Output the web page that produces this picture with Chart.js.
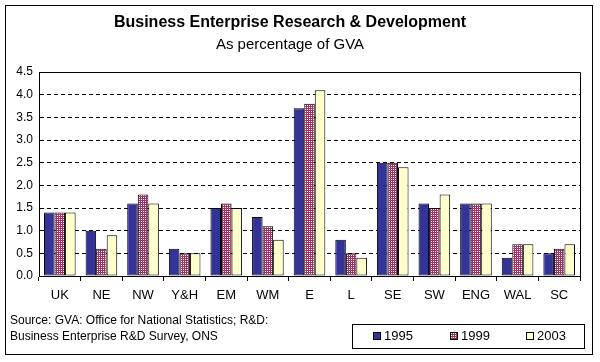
<!DOCTYPE html>
<html>
<head>
<meta charset="utf-8">
<script src="https://cdn.jsdelivr.net/npm/chart.js@4.4.0/dist/chart.umd.min.js"></script>
<style>
  html, body { margin: 0; padding: 0; background: #fff; }
  #wrap { width: 600px; height: 362px; }
</style>
</head>
<body>
<div id="wrap"><canvas id="rdChart" width="600" height="362"></canvas></div>
<script>
/* ───────── datos ───────── */
const regions = ["UK", "NE", "NW", "Y&H", "EM", "WM", "E", "L", "SE", "SW", "ENG", "WAL", "SC"];
const years   = ["1995", "1999", "2003"];
const v1995   = [1.4, 1.0, 1.6, 0.6, 1.5, 1.3, 3.7, 0.8, 2.5, 1.6, 1.6, 0.4, 0.5];
const v1999   = [1.4, 0.6, 1.8, 0.5, 1.6, 1.1, 3.8, 0.5, 2.5, 1.5, 1.6, 0.7, 0.6];
const v2003   = [1.4, 0.9, 1.6, 0.5, 1.5, 0.8, 4.1, 0.4, 2.4, 1.8, 1.6, 0.7, 0.7];
const yTicks  = [0, 0.5, 1.0, 1.5, 2.0, 2.5, 3.0, 3.5, 4.0, 4.5];
const sourceLines = [
  "Source: GVA: Office for National Statistics; R&D:",
  "Business Enterprise R&D Survey, ONS"
];

const FONT = "Arial, 'Liberation Sans', sans-serif";

/* patrón cuadriculado para 1999 (granate con puntos blancos) */
function checkerPattern() {
  const c = document.createElement("canvas");
  c.width = 2; c.height = 2;
  const g = c.getContext("2d");
  g.fillStyle = "#993366";
  g.fillRect(0, 0, 2, 2);
  g.fillStyle = "#ffffff";
  g.fillRect(1, 1, 1, 1);
  return g.createPattern(c, "repeat");
}

/* ───────── plugin: marco, leyenda y fuente ───────── */
const decorPlugin = {
  id: "decor",
  beforeDraw(chart) {
    const ctx = chart.ctx;
    ctx.save();
    ctx.fillStyle = "#fff";
    ctx.fillRect(0, 0, chart.width, chart.height);
    ctx.strokeStyle = "#000";
    ctx.lineWidth = 1;
    ctx.strokeRect(5.5, 5.5, 587, 349);
    ctx.restore();
  },
  afterDatasetsDraw(chart) {
    const ctx = chart.ctx;
    const a = chart.chartArea;
    ctx.save();
    ctx.strokeStyle = "#000";
    ctx.lineWidth = 1;
    // marco del área de gráfico (arriba y derecha)
    ctx.beginPath();
    ctx.moveTo(Math.round(a.left) + 0.5, Math.round(a.top) + 0.5);
    ctx.lineTo(Math.round(a.right) + 0.5, Math.round(a.top) + 0.5);
    ctx.lineTo(Math.round(a.right) + 0.5, Math.round(a.bottom) + 0.5);
    ctx.stroke();

    // texto de la fuente
    ctx.fillStyle = "#000";
    ctx.font = "12px " + FONT;
    ctx.textBaseline = "middle";
    ctx.textAlign = "left";
    ctx.fillText(sourceLines[0], 10, 321);
    ctx.fillText(sourceLines[1], 10, 337);

    // leyenda
    ctx.strokeRect(352.5, 324.5, 232, 24);
    const xs = [373, 450, 526];
    chart.data.datasets.forEach((ds, i) => {
      ctx.fillStyle = ds.backgroundColor;
      ctx.fillRect(xs[i], 332, 7, 7);
      ctx.strokeRect(xs[i] + 0.5, 332.5, 7, 7);
      ctx.fillStyle = "#000";
      ctx.font = "13px " + FONT;
      ctx.fillText(ds.label, xs[i] + 11, 336.5);
    });
    ctx.restore();
  }
};

/* ───────── gráfico ───────── */
const ctx = document.getElementById("rdChart").getContext("2d");
const serieStyle = {
  borderColor: "#000",
  borderWidth: 1,
  borderSkipped: false,
  categoryPercentage: 0.76,
  barPercentage: 1.0
};

new Chart(ctx, {
  type: "bar",
  data: {
    labels: regions,
    datasets: [
      { label: years[0], data: v1995, backgroundColor: "#333399", ...serieStyle },
      { label: years[1], data: v1999, backgroundColor: checkerPattern(), ...serieStyle },
      { label: years[2], data: v2003, backgroundColor: "#ffffcc", ...serieStyle }
    ]
  },
  options: {
    responsive: false,
    animation: false,
    devicePixelRatio: 1,
    layout: { padding: { left: 0, right: 20, top: 0, bottom: 0 } },
    plugins: {
      legend: { display: false },
      tooltip: { enabled: false },
      title: {
        display: true,
        text: "Business Enterprise Research & Development",
        color: "#000",
        font: { family: FONT, size: 16, weight: "bold", lineHeight: 1.2 },
        padding: { top: 13, bottom: 2 }
      },
      subtitle: {
        display: true,
        text: "As percentage of GVA",
        color: "#000",
        font: { family: FONT, size: 15, lineHeight: 1.2 },
        padding: { top: 2, bottom: 17.8 }
      }
    },
    scales: {
      x: {
        grid: {
          offset: true,
          drawOnChartArea: false,
          drawTicks: true,
          tickLength: 5,
          color: "#000"
        },
        border: { color: "#000", width: 1 },
        ticks: { color: "#000", font: { family: FONT, size: 13 }, padding: 7, maxRotation: 0 },
        afterFit: s => { s.height = 86; }
      },
      y: {
        min: 0,
        max: 4.5,
        afterBuildTicks: s => { s.ticks = yTicks.map(v => ({ value: v })); },
        grid: {
          drawTicks: false,
          color: c => (c.tick.value === 0 || c.tick.value === 4.5) ? "rgba(0,0,0,0)" : "#000"
        },
        border: { color: "#000", width: 1, dash: [4, 3] },
        ticks: {
          color: "#000",
          font: { family: FONT, size: 12 },
          padding: 6,
          callback: v => Number(v).toFixed(1)
        },
        afterFit: s => { s.width = 39; }
      }
    }
  },
  plugins: [decorPlugin]
});
</script>
</body>
</html>
